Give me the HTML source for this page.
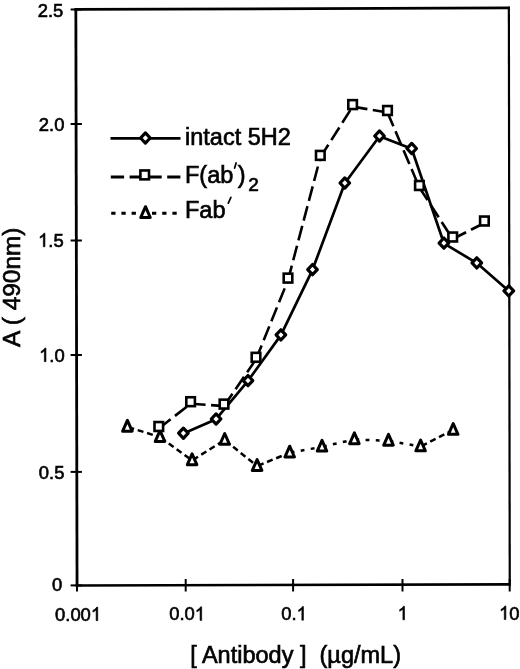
<!DOCTYPE html>
<html><head><meta charset="utf-8"><style>
html,body{margin:0;padding:0;background:#fff;width:520px;height:669px;overflow:hidden}
svg{display:block;will-change:transform}
text{font-family:"Liberation Sans",sans-serif;fill:#000;stroke:#000;stroke-width:0.65px}
.hid{fill:none;stroke:none}
.one{fill:#000;stroke:#000;stroke-width:66px}
.ti{font-size:23.5px}
.lg{font-size:23.5px}
.sub{font-size:19px}
.pr{fill:none;stroke:#000;stroke-width:1.7;stroke-linecap:round}
.ln{fill:none;stroke:#000;stroke-width:2.7;stroke-linejoin:round}
.ln2{fill:none;stroke:#000;stroke-width:2.6}
.ln3{fill:none;stroke:#000;stroke-width:2.5}
.dm{fill:#fff;stroke:#000;stroke-width:3.2;stroke-linejoin:round}
.sq{fill:#fff;stroke:#000;stroke-width:2.6}
.tr{fill:#fff;stroke:#000;stroke-width:3;stroke-linejoin:round}
</style></head><body>
<svg width="520" height="669" viewBox="0 0 520 669">
<g stroke="#000" fill="none">
<line x1="75.85" y1="8.2" x2="77.05" y2="586.7" stroke-width="2.8"/>
<line x1="508.86" y1="6.8" x2="509.75" y2="585.4" stroke-width="2.2"/>
<line x1="74.5" y1="9.46" x2="510" y2="7.84" stroke-width="2.7"/>
<line x1="75.6" y1="585.45" x2="510.8" y2="584.33" stroke-width="2.6"/>
<line x1="70.6" y1="9.5" x2="81.9" y2="9.5" stroke-width="2"/><line x1="70.6" y1="124" x2="81.9" y2="124" stroke-width="2"/><line x1="70.6" y1="240.5" x2="81.9" y2="240.5" stroke-width="2"/><line x1="70.6" y1="355" x2="81.9" y2="355" stroke-width="2"/><line x1="70.6" y1="471.9" x2="81.9" y2="471.9" stroke-width="2"/><line x1="70.6" y1="585.4" x2="81.9" y2="585.4" stroke-width="2"/><line x1="77" y1="579" x2="77" y2="591.5" stroke-width="2"/><line x1="185.7" y1="579" x2="185.7" y2="591.5" stroke-width="2"/><line x1="293.1" y1="579" x2="293.1" y2="591.5" stroke-width="2"/><line x1="402.5" y1="579" x2="402.5" y2="591.5" stroke-width="2"/><line x1="509.7" y1="579" x2="509.7" y2="591.5" stroke-width="2"/></g>
<g><g transform="translate(37.68,16.63) scale(0.97,1)"><text x="0" y="0" style="font-size:19px">2.5</text></g><g transform="translate(38.78,130.53) scale(0.97,1)"><text x="0" y="0" style="font-size:19px">2.0</text></g><g transform="translate(38.09,246.78) scale(0.97,1)"><text x="0" y="0" style="font-size:19px"><tspan class="hid">1</tspan>.5</text><path class="one" transform="translate(0,0) scale(0.00928,-0.00928)" d="M763 0L583 0L583 1147Q518 1085 412 1023Q306 961 223 930L223 1104Q374 1175 487 1276Q600 1377 647 1466L763 1466Z"/></g><g transform="translate(39.09,361.63) scale(0.97,1)"><text x="0" y="0" style="font-size:19px"><tspan class="hid">1</tspan>.0</text><path class="one" transform="translate(0,0) scale(0.00928,-0.00928)" d="M763 0L583 0L583 1147Q518 1085 412 1023Q306 961 223 930L223 1104Q374 1175 487 1276Q600 1377 647 1466L763 1466Z"/></g><g transform="translate(38.78,478.78) scale(0.97,1)"><text x="0" y="0" style="font-size:19px">0.5</text></g><g transform="translate(51.88,590.88) scale(0.97,1)"><text x="0" y="0" style="font-size:19px">0</text></g><g transform="translate(55.02,620.7) scale(0.97,1)"><text x="0" y="0" style="font-size:19px">0.00<tspan class="hid">1</tspan></text><path class="one" transform="translate(36.97,0) scale(0.00928,-0.00928)" d="M763 0L583 0L583 1147Q518 1085 412 1023Q306 961 223 930L223 1104Q374 1175 487 1276Q600 1377 647 1466L763 1466Z"/></g><g transform="translate(169.19,620.42) scale(0.97,1)"><text x="0" y="0" style="font-size:19px">0.0<tspan class="hid">1</tspan></text><path class="one" transform="translate(26.41,0) scale(0.00928,-0.00928)" d="M763 0L583 0L583 1147Q518 1085 412 1023Q306 961 223 930L223 1104Q374 1175 487 1276Q600 1377 647 1466L763 1466Z"/></g><g transform="translate(281.22,620.14) scale(0.97,1)"><text x="0" y="0" style="font-size:19px">0.<tspan class="hid">1</tspan></text><path class="one" transform="translate(15.85,0) scale(0.00928,-0.00928)" d="M763 0L583 0L583 1147Q518 1085 412 1023Q306 961 223 930L223 1104Q374 1175 487 1276Q600 1377 647 1466L763 1466Z"/></g><g transform="translate(397.66,619.85) scale(0.97,1)"><text x="0" y="0" style="font-size:19px"><tspan class="hid">1</tspan></text><path class="one" transform="translate(0,0) scale(0.00928,-0.00928)" d="M763 0L583 0L583 1147Q518 1085 412 1023Q306 961 223 930L223 1104Q374 1175 487 1276Q600 1377 647 1466L763 1466Z"/></g><g transform="translate(499.01,619.57) scale(0.97,1)"><text x="0" y="0" style="font-size:19px"><tspan class="hid">1</tspan>0</text><path class="one" transform="translate(0,0) scale(0.00928,-0.00928)" d="M763 0L583 0L583 1147Q518 1085 412 1023Q306 961 223 930L223 1104Q374 1175 487 1276Q600 1377 647 1466L763 1466Z"/></g></g>
<g>
<text x="190.2" y="662.6" class="ti" xml:space="preserve">[ Antibody ]  (µg/mL)</text>
<text transform="translate(19.6,346.9) rotate(-90)" class="ti" style="font-size:24.4px" xml:space="preserve">A ( 490nm)</text>
</g>
<g stroke="#000" fill="none">
<line x1="110.5" y1="138.4" x2="180.5" y2="138.4" stroke-width="2.8"/>
<line x1="110.8" y1="177" x2="180.4" y2="177" stroke-width="3" stroke-dasharray="13.3 5.5"/>
<line x1="111.2" y1="213.2" x2="180.5" y2="213.2" stroke-width="2.9" stroke-dasharray="4.3 5.9"/>
</g>
<g><path class="dm" d="M145.4 132.9L150.2 138L145.4 143.1L140.6 138Z"/><rect class="sq" x="140.4" y="170.45" width="8.6" height="8.9"/><path class="tr" d="M145.5 206.7L150.25 217.5L140.75 217.5Z"/></g>
<g>
<text x="185.0" y="144.6" class="lg">intact 5H2</text>
<text x="185.0" y="182.5" class="lg">F(ab<tspan class="hid">′</tspan>)<tspan dx="2.8" dy="8.4" class="sub">2</tspan></text>
<text x="185.0" y="217.7" class="lg">Fab</text>
<path class="pr" d="M236.1 162.9L234.6 168.1"/>
<path class="pr" d="M230.9 197.3L228.3 203.2"/>
</g>
<g><polyline class="ln" points="183.4,433.4 216.1,419.2 248,380.8 280.9,335.1 312.5,269.8 344.8,183.2 379.5,136.2 411.7,148.7 443.9,243.3 476.8,263.1 508.8,291.1"/><line class="ln2" x1="158.8" y1="428.5" x2="190.6" y2="403.7" stroke-dasharray="15 5.5"/><line class="ln2" x1="190.6" y1="403.7" x2="224" y2="406.1" stroke-dasharray="15 5.5"/><line class="ln2" x1="224" y1="406.1" x2="256" y2="359.3" stroke-dasharray="15 5.5"/><line class="ln2" x1="256" y1="359.3" x2="288" y2="280.1" stroke-dasharray="15 5.5"/><line class="ln2" x1="288" y1="280.1" x2="320.3" y2="157.4" stroke-dasharray="15 5.5"/><line class="ln2" x1="320.3" y1="157.4" x2="352.6" y2="106.6" stroke-dasharray="15 5.5"/><line class="ln2" x1="352.6" y1="106.6" x2="387.5" y2="112.5" stroke-dasharray="15 5.5"/><line class="ln2" x1="387.5" y1="112.5" x2="419.4" y2="187.5" stroke-dasharray="15 5.5"/><line class="ln2" x1="419.4" y1="187.5" x2="452.7" y2="239" stroke-dasharray="15 5.5"/><line class="ln2" x1="452.7" y1="239" x2="484.4" y2="223" stroke-dasharray="15 5.5"/><line class="ln3" x1="127.4" y1="426.9" x2="160" y2="437.1" stroke-dasharray="6 3.8" stroke-dashoffset="-1"/><line class="ln3" x1="160" y1="437.1" x2="192.1" y2="460.4" stroke-dasharray="6 3.8" stroke-dashoffset="-1"/><line class="ln3" x1="192.1" y1="460.4" x2="224.7" y2="440" stroke-dasharray="6 3.8" stroke-dashoffset="-1"/><line class="ln3" x1="224.7" y1="440" x2="257.1" y2="466.1" stroke-dasharray="6 3.8" stroke-dashoffset="-1"/><line class="ln3" x1="257.1" y1="466.1" x2="289.7" y2="452.7" stroke-dasharray="6 3.8" stroke-dashoffset="-1"/><line class="ln3" x1="289.7" y1="452.7" x2="322" y2="446.8" stroke-dasharray="3.8 6.4" stroke-dashoffset="-1"/><line class="ln3" x1="322" y1="446.8" x2="354.4" y2="439.4" stroke-dasharray="3.8 6.4" stroke-dashoffset="-1"/><line class="ln3" x1="354.4" y1="439.4" x2="388.5" y2="440.9" stroke-dasharray="3.8 6.4" stroke-dashoffset="-1"/><line class="ln3" x1="388.5" y1="440.9" x2="420.6" y2="446.5" stroke-dasharray="3.8 6.4" stroke-dashoffset="-1"/><line class="ln3" x1="420.6" y1="446.5" x2="453.2" y2="430" stroke-dasharray="6 3.8" stroke-dashoffset="-1"/><path class="tr" d="M127.4 420.4L132.15 431.2L122.65 431.2Z"/><path class="tr" d="M160 430.6L164.75 441.4L155.25 441.4Z"/><path class="tr" d="M192.1 453.9L196.85 464.7L187.35 464.7Z"/><path class="tr" d="M224.7 433.5L229.45 444.3L219.95 444.3Z"/><path class="tr" d="M257.1 459.6L261.85 470.4L252.35 470.4Z"/><path class="tr" d="M289.7 446.2L294.45 457L284.95 457Z"/><path class="tr" d="M322 440.3L326.75 451.1L317.25 451.1Z"/><path class="tr" d="M354.4 432.9L359.15 443.7L349.65 443.7Z"/><path class="tr" d="M388.5 434.4L393.25 445.2L383.75 445.2Z"/><path class="tr" d="M420.6 440L425.35 450.8L415.85 450.8Z"/><path class="tr" d="M453.2 423.5L457.95 434.3L448.45 434.3Z"/><rect class="sq" x="154.5" y="422.05" width="8.6" height="8.9"/><rect class="sq" x="186.3" y="397.25" width="8.6" height="8.9"/><rect class="sq" x="219.7" y="399.65" width="8.6" height="8.9"/><rect class="sq" x="251.7" y="352.85" width="8.6" height="8.9"/><rect class="sq" x="283.7" y="273.65" width="8.6" height="8.9"/><rect class="sq" x="316" y="150.95" width="8.6" height="8.9"/><rect class="sq" x="348.3" y="100.15" width="8.6" height="8.9"/><rect class="sq" x="383.2" y="106.05" width="8.6" height="8.9"/><rect class="sq" x="415.1" y="181.05" width="8.6" height="8.9"/><rect class="sq" x="448.4" y="232.55" width="8.6" height="8.9"/><rect class="sq" x="480.1" y="216.55" width="8.6" height="8.9"/><path class="dm" d="M183.4 428.1L188.2 433.2L183.4 438.3L178.6 433.2Z"/><path class="dm" d="M216.1 413.9L220.9 419L216.1 424.1L211.3 419Z"/><path class="dm" d="M248 375.5L252.8 380.6L248 385.7L243.2 380.6Z"/><path class="dm" d="M280.9 329.8L285.7 334.9L280.9 340L276.1 334.9Z"/><path class="dm" d="M312.5 264.5L317.3 269.6L312.5 274.7L307.7 269.6Z"/><path class="dm" d="M344.8 177.9L349.6 183L344.8 188.1L340 183Z"/><path class="dm" d="M379.5 130.9L384.3 136L379.5 141.1L374.7 136Z"/><path class="dm" d="M411.7 143.4L416.5 148.5L411.7 153.6L406.9 148.5Z"/><path class="dm" d="M443.9 238L448.7 243.1L443.9 248.2L439.1 243.1Z"/><path class="dm" d="M476.8 257.8L481.6 262.9L476.8 268L472 262.9Z"/><path class="dm" d="M508.8 285.8L513.6 290.9L508.8 296L504 290.9Z"/></g>
</svg>
</body></html>
